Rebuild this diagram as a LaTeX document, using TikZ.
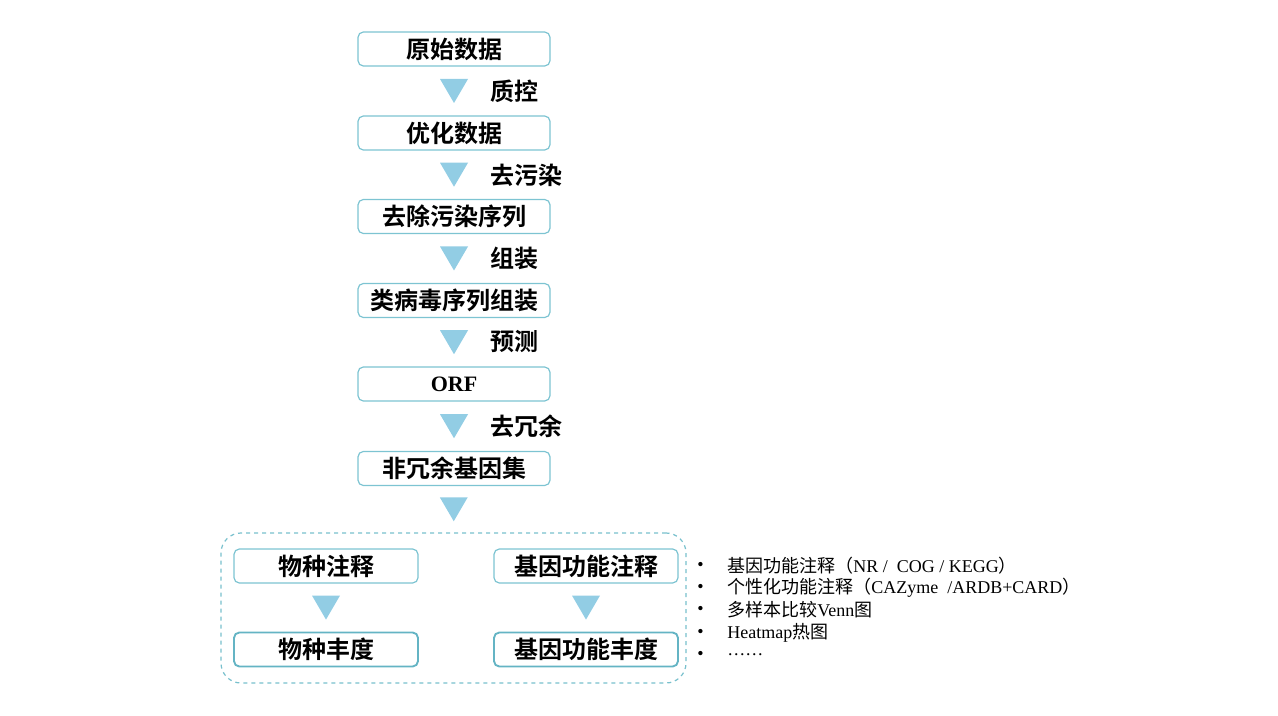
\documentclass[tikz,border=0pt]{standalone}
\usepackage{fontspec}
\setmainfont{Liberation Serif}
\newfontfamily\cjk{Noto Sans CJK SC}
\newfontfamily\cjkb{Noto Sans CJK SC Bold}
\usetikzlibrary{calc}
\definecolor{boxline}{RGB}{125,196,210}
\definecolor{boxline2}{RGB}{100,180,196}
\definecolor{tri}{RGB}{146,205,228}
\definecolor{dashc}{RGB}{120,192,205}
\begin{document}
\begin{tikzpicture}[x=0.75pt,y=-0.75pt,
  stepbox/.style={draw=boxline,line width=0.9pt,rounded corners=4pt,fill=white,
    minimum width=144pt,minimum height=25.5pt,inner sep=0pt,
    font=\cjkb\fontsize{18}{21}\selectfont},
  abox/.style={stepbox,minimum width=138pt},
  bbox/.style={abox,draw=boxline2,line width=1.4pt},
  lbl/.style={anchor=west,inner sep=0pt,font=\cjkb\fontsize{18}{21}\selectfont},
  bul/.style={anchor=west,inner sep=0pt,font=\fontsize{13.5}{15}\selectfont}
]
\useasboundingbox (0,0) rectangle (1278,716);
\newcommand{\tridown}[2]{%
  \path (#1.south) -- (#2.north) coordinate[midway] (tmpm);
  \fill[tri] ($(tmpm)+(-14,-12)$) -- ($(tmpm)+(14,-12)$) -- ($(tmpm)+(0,12)$) -- cycle;}
% main column
\node[stepbox] (n1) at (454,49) {原始数据};
\node[stepbox] (n2) at (454,133) {优化数据};
\node[stepbox] (n3) at (454,216.5) {去除污染序列};
\node[stepbox] (n4) at (454,300.5) {类病毒序列组装};
\node[stepbox,font=\bfseries\fontsize{16.5}{19}\selectfont] (n5) at (454,384) {ORF};
\node[stepbox] (n6) at (454,468.5) {非冗余基因集};
% dashed container
\node[draw=dashc,dashed,line width=0.9pt,rounded corners=15pt,minimum width=348.75pt,minimum height=112.5pt,inner sep=0pt] (grp) at (453.5,608) {};
\node[abox] (a1) at (326,566) {物种注释};
\node[bbox] (a2) at (326,649.5) {物种丰度};
\node[abox] (b1) at (586,566) {基因功能注释};
\node[bbox] (b2) at (586,649.5) {基因功能丰度};
% triangles
\tridown{n1}{n2}
\tridown{n2}{n3}
\tridown{n3}{n4}
\tridown{n4}{n5}
\tridown{n5}{n6}
\tridown{n6}{grp}
\tridown{a1}{a2}
\tridown{b1}{b2}
% labels
\node[lbl] (l1) at (490,91) {质控};
\node[lbl] (l2) at (490,175) {去污染};
\node[lbl] (l3) at (490,258.5) {组装};
\node[lbl] (l4) at (490,342) {预测};
\node[lbl] (l5) at (490,426) {去冗余};
% bullet list
\foreach \y/\nm in {566/p1,588/p2,610/p3,633/p4,655/p5}{
  \node[bul] (d\nm) at (697,\y) {\textbullet};
}
\node[bul] (t1) at (727,566) {{\cjk 基因功能注释（}NR /\ \ COG / KEGG{\cjk ）}};
\node[bul] (t2) at (727,588) {{\cjk 个性化功能注释（}CAZyme\ \ /ARDB+CARD{\cjk ）}};
\node[bul] (t3) at (727,610) {{\cjk 多样本比较}Venn{\cjk 图}};
\node[bul] (t4) at (727,633) {Heatmap{\cjk 热图}};
\node[bul] (t5) at (727,655) {……};
\end{tikzpicture}
\end{document}
